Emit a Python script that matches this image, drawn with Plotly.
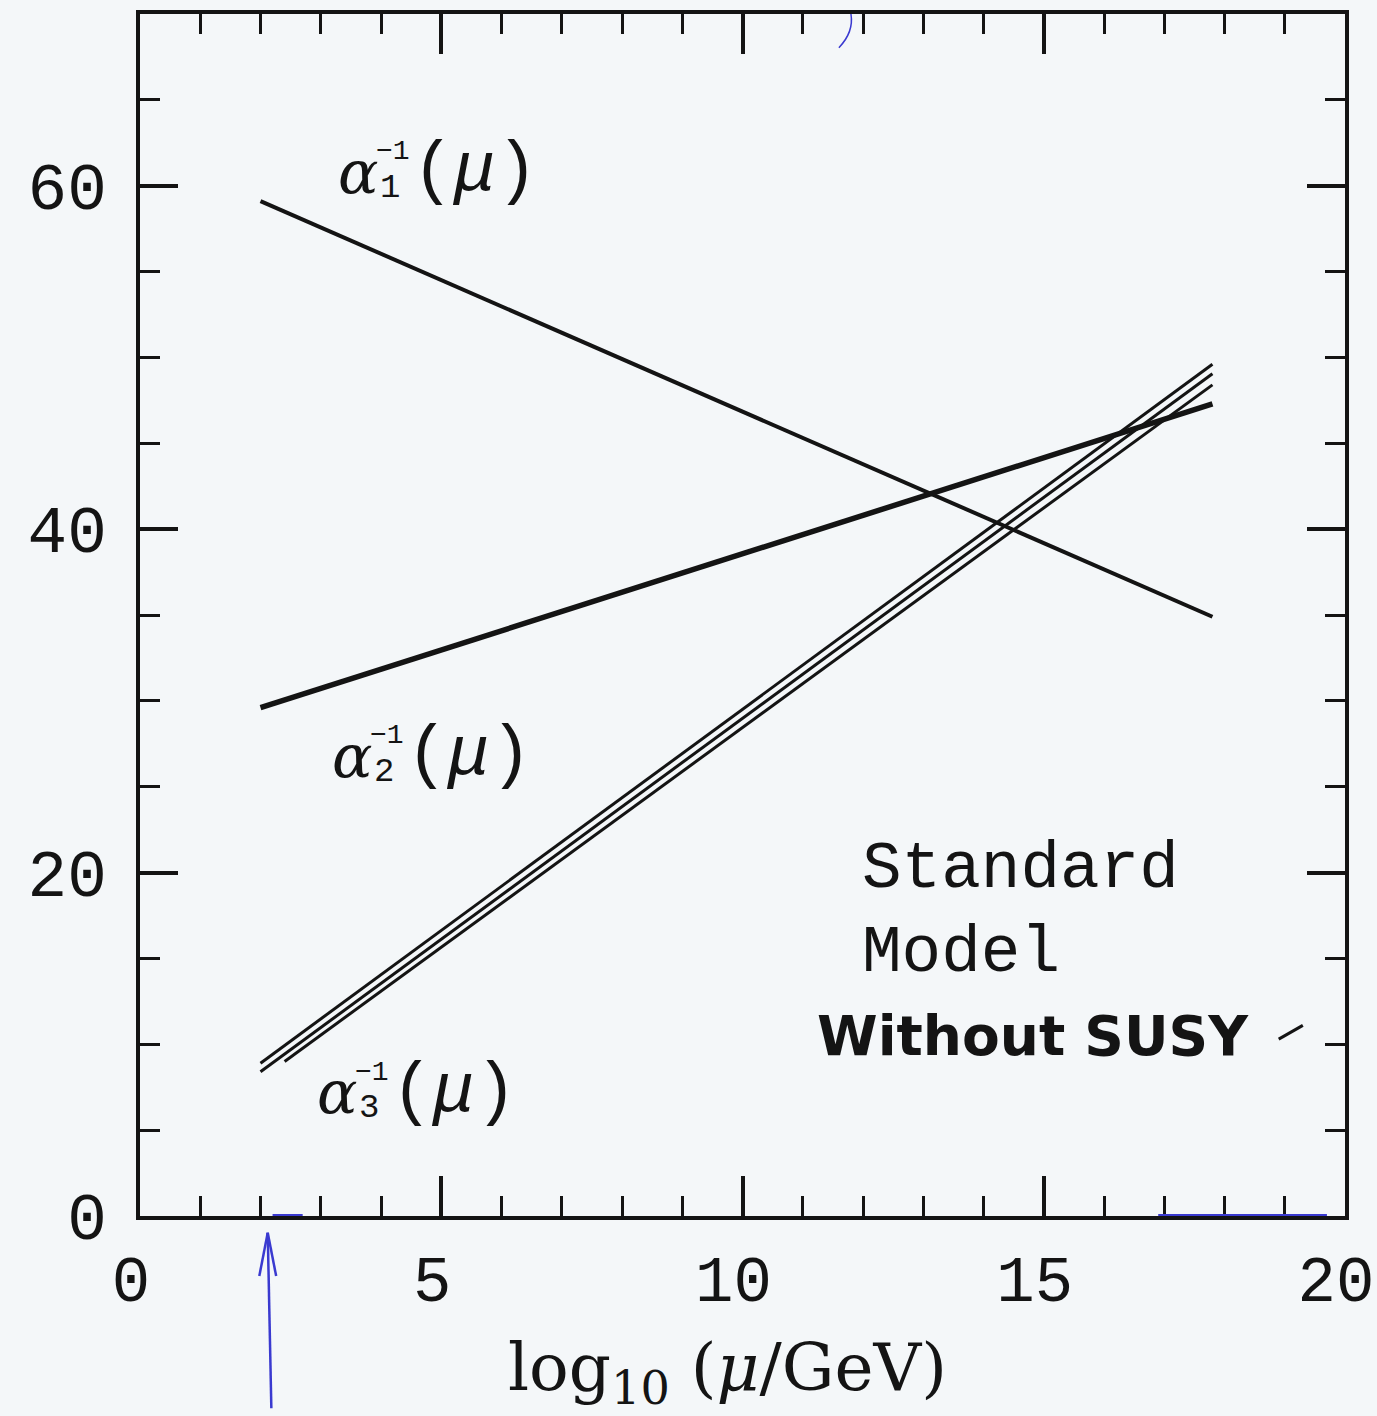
import plotly.graph_objects as go

# Inverse gauge couplings vs. energy scale (Standard Model running, no SUSY)
x_ends = [2.0, 17.8]                 # log10(mu/GeV) at the ends of each line
alpha1_inv = [59.1, 34.9]
alpha2_inv = [29.6, 47.3]
alpha3_upper = [8.9, 49.6]
alpha3_central = [8.4, 49.05]
x_ends_alpha3_lower = [2.4, 17.8]
alpha3_lower = [9.0, 48.4]

x_tick_vals = [0, 5, 10, 15, 20]
x_tick_text = ["0", "5", "10", "15", "20"]
y_tick_vals = [0, 20, 40, 60]
y_tick_text = ["0", "20", "40", "60"]

INK = "#141414"
BLUE = "#3a3ad0"
BG = "#f4f7f9"
MONO = "Liberation Mono"

fig = go.Figure()

fig.add_trace(go.Scatter(x=x_ends, y=alpha1_inv, mode="lines",
                         line=dict(color=INK, width=4), hoverinfo="skip"))
fig.add_trace(go.Scatter(x=x_ends, y=alpha2_inv, mode="lines",
                         line=dict(color=INK, width=5.5), hoverinfo="skip"))
for xs, ys in [(x_ends, alpha3_upper), (x_ends, alpha3_central),
               (x_ends_alpha3_lower, alpha3_lower)]:
    fig.add_trace(go.Scatter(x=xs, y=ys, mode="lines",
                             line=dict(color=INK, width=3), hoverinfo="skip"))


def alpha_label(x, y, idx):
    """alpha_i^{-1}(mu) with stacked sub/superscript."""
    base = dict(x=x, y=y, xref="x", yref="y", showarrow=False,
                xanchor="left", yanchor="middle")
    fig.add_annotation(text="<i>α</i>", font=dict(family="DejaVu Serif", size=60, color=INK), **base)
    fig.add_annotation(text="−1", font=dict(family=MONO, size=28, color=INK),
                       xshift=38, yshift=20, **base)
    fig.add_annotation(text=idx, font=dict(family=MONO, size=34, color=INK),
                       xshift=42, yshift=-16, **base)
    fig.add_annotation(text="(<i>μ</i>)", font=dict(family=MONO, size=70, color=INK),
                       xshift=74, **base)


alpha_label(3.25, 60.8, "1")
alpha_label(3.15, 26.8, "2")
alpha_label(2.9, 7.2, "3")

fig.add_annotation(x=11.95, y=20.2, xref="x", yref="y", text="Standard",
                   showarrow=False, xanchor="left", yanchor="middle",
                   font=dict(family=MONO, size=66, color=INK))
fig.add_annotation(x=11.95, y=15.3, xref="x", yref="y", text="Model",
                   showarrow=False, xanchor="left", yanchor="middle",
                   font=dict(family=MONO, size=66, color=INK))
fig.add_annotation(x=11.2, y=10.5, xref="x", yref="y", text="<b>Without SUSY</b>",
                   showarrow=False, xanchor="left", yanchor="middle",
                   font=dict(family="DejaVu Sans", size=55, color=INK))

# axis title
fig.add_annotation(x=9.75, y=-0.13, xref="x", yref="paper",
                   text="log<sub>10</sub> (<i>μ</i>/GeV)", showarrow=False,
                   xanchor="center", yanchor="middle",
                   font=dict(family="DejaVu Serif", size=66, color=INK))

# hand-drawn blue marks: arrow at the Z mass and underlines on the axis
shapes = [
    dict(type="line", xref="x", yref="paper", x0=2.18, y0=-0.16, x1=2.12, y1=-0.014,
         line=dict(color=BLUE, width=2.5)),
    dict(type="line", xref="x", yref="paper", x0=2.12, y0=-0.014, x1=1.98, y1=-0.05,
         line=dict(color=BLUE, width=2.5)),
    dict(type="line", xref="x", yref="paper", x0=2.12, y0=-0.014, x1=2.26, y1=-0.05,
         line=dict(color=BLUE, width=2.5)),
    dict(type="line", xref="x", yref="y", x0=2.2, y0=0, x1=2.7, y1=0,
         line=dict(color=BLUE, width=4)),
    dict(type="line", xref="x", yref="y", x0=16.9, y0=0, x1=19.7, y1=0,
         line=dict(color=BLUE, width=4)),
    dict(type="path", xref="x", yref="paper",
         path="M 11.8,1.0 Q 11.85,0.985 11.6,0.972",
         line=dict(color=BLUE, width=1.5)),
    dict(type="line", xref="x", yref="y", x0=18.9, y0=10.3, x1=19.3, y1=11.1,
         line=dict(color=INK, width=3)),
]
fig.update_layout(shapes=shapes)

axis_common = dict(
    ticks="inside", tickwidth=4, tickcolor=INK,
    showline=True, linewidth=4, linecolor=INK, mirror="ticks",
    showgrid=False, zeroline=False, ticklabeloverflow="allow",
    automargin=False,
)

fig.update_xaxes(range=[0, 20], tickmode="array", tickvals=x_tick_vals,
                 ticktext=x_tick_text, ticklen=40, ticklabelstandoff=4,
                 ticklabelshift=-9,
                 tickfont=dict(family=MONO, size=64, color=INK),
                 minor=dict(ticks="inside", dtick=1, tick0=0, ticklen=20,
                            tickwidth=3, tickcolor=INK, showgrid=False),
                 **axis_common)
fig.update_yaxes(range=[0, 70], tickmode="array", tickvals=y_tick_vals,
                 ticktext=y_tick_text, ticklen=38, ticklabelstandoff=16,
                 tickfont=dict(family=MONO, size=66, color=INK),
                 minor=dict(ticks="inside", dtick=5, tick0=0, ticklen=20,
                            tickwidth=3, tickcolor=INK, showgrid=False),
                 **axis_common)

fig.update_layout(
    width=1377, height=1416,
    margin=dict(l=140, r=32, t=14, b=200),
    paper_bgcolor=BG, plot_bgcolor=BG,
    showlegend=False,
)

fig.write_html("out.html")
